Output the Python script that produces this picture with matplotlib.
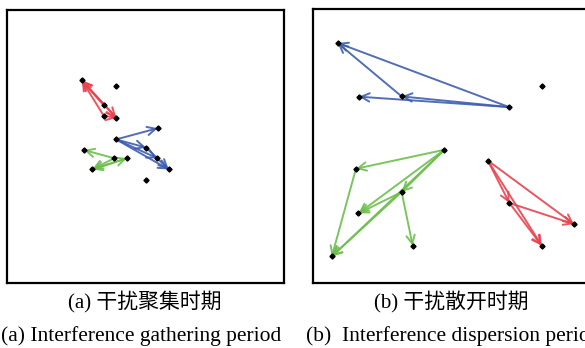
import matplotlib.pyplot as plt

plt.rcParams['font.family'] = ['Liberation Serif', 'Noto Sans CJK SC']

RED = '#e8434f'
BLUE = '#3e5eae'
GREEN = '#6cbf4c'

# (a) gathering period: node positions, panel units 0-100
pts_a = {
    'A': (27.0, 74.2), 'B': (39.4, 72.2), 'C': (34.9, 65.1), 'D': (34.9, 61.3),
    'E': (39.5, 60.5), 'F': (39.4, 52.6), 'G': (54.4, 56.7), 'H': (50.2, 49.6),
    'I': (54.3, 45.7), 'J': (58.4, 41.6), 'K': (50.2, 37.7), 'L': (27.8, 48.7),
    'M': (38.7, 45.7), 'N': (43.3, 45.7), 'O': (30.8, 41.6),
}
moves_a = {
    RED: [('C', 'A'), ('D', 'A'), ('E', 'A'), ('A', 'E'), ('D', 'E')],
    BLUE: [('F', 'G'), ('F', 'J'), ('F', 'I'), ('F', 'H'), ('H', 'J')],
    GREEN: [('M', 'L'), ('N', 'O'), ('M', 'O'), ('O', 'N')],
}

# (b) dispersion period
pts_b = {
    'P': (8.9, 87.6), 'Q': (16.6, 68.0), 'R': (32.0, 68.1), 'S': (70.8, 64.2),
    'T': (82.6, 72.0), 'U': (47.4, 48.6), 'V': (15.5, 41.7), 'W': (32.0, 33.2),
    'X': (16.4, 25.4), 'Y': (36.0, 13.6), 'Z': (6.8, 9.7), 'AA': (63.1, 44.7),
    'AB': (70.9, 29.2), 'AC': (94.2, 21.5), 'AD': (82.6, 13.6),
}
moves_b = {
    BLUE: [('S', 'P'), ('R', 'P'), ('S', 'Q'), ('S', 'R')],
    GREEN: [('U', 'V'), ('U', 'X'), ('U', 'Z'), ('U', 'W'), ('V', 'Z'),
            ('W', 'X'), ('W', 'Z'), ('W', 'Y')],
    RED: [('AA', 'AC'), ('AB', 'AC'), ('AA', 'AD'), ('AB', 'AD'), ('AA', 'AB')],
}

captions_cn = ['(a) 干扰聚集时期', '(b) 干扰散开时期']
captions_en = ['(a) Interference gathering period', '(b)  Interference dispersion period']

W, H = 585, 348
fig = plt.figure(figsize=(W / 100, H / 100), dpi=100)
ax_a = fig.add_axes([7 / W, (H - 283) / H, 277 / W, 273 / H])
ax_b = fig.add_axes([313 / W, (H - 283) / H, 277 / W, 274 / H])


def draw_panel(ax, pts, moves):
    for color, pairs in moves.items():
        for s, e in pairs:
            ax.annotate('', xy=pts[e], xytext=pts[s],
                        arrowprops=dict(arrowstyle='->', color=color, lw=1.4,
                                        alpha=0.9, shrinkA=0, shrinkB=0,
                                        mutation_scale=15))
    xs = [p[0] for p in pts.values()]
    ys = [p[1] for p in pts.values()]
    ax.plot(xs, ys, 'D', color='black', ms=2.6, zorder=5)
    ax.set_xlim(0, 100)
    ax.set_ylim(0, 100)
    ax.set_xticks([])
    ax.set_yticks([])
    for sp in ax.spines.values():
        sp.set_linewidth(1.6)


draw_panel(ax_a, pts_a, moves_a)
draw_panel(ax_b, pts_b, moves_b)

fig.text(145 / W, 1 - 302 / H, captions_cn[0], ha='center', va='center', fontsize=15)
fig.text(451 / W, 1 - 302 / H, captions_cn[1], ha='center', va='center', fontsize=15)
fig.text(1 / W, 1 - 336 / H, captions_en[0], ha='left', va='center', fontsize=15.5)
fig.text(306 / W, 1 - 336 / H, captions_en[1], ha='left', va='center', fontsize=15.5)

fig.savefig('out.png', dpi=100)
